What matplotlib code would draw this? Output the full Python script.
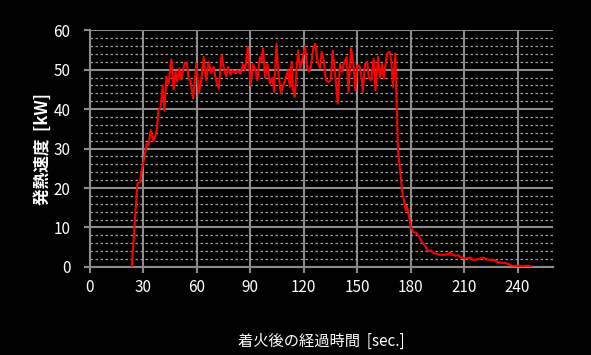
import matplotlib.pyplot as plt
from matplotlib.ticker import MultipleLocator

# 経過時間 [sec.] と 発熱速度 [kW]
time_sec = [
    23.5, 26.7, 28.2, 29.1, 30.0, 32.0, 33.0, 34.2, 35.7, 37.6, 38.5, 39.8, 40.8, 41.9,
    42.9, 44.2, 45.7, 47.0, 48.1, 49.0, 50.2, 51.3, 53.2, 54.5, 55.4, 56.4, 57.9, 59.8,
    61.1, 62.5, 63.9, 65.2, 66.7, 68.0, 69.5, 70.8, 72.4, 73.9, 75.2, 76.5, 77.5, 79.0,
    80.2, 81.7, 83.0, 84.6, 86.0, 87.0, 88.7, 90.2, 91.5, 93.0, 94.0, 95.4, 96.3, 97.2,
    98.3, 99.6, 101.0, 102.5, 103.4, 104.7, 105.8, 107.2, 108.5, 110.0, 111.3, 112.2,
    113.2, 114.1, 115.0, 116.0, 116.9, 118.0, 119.4, 120.7, 122.1, 123.0, 124.0, 125.4,
    126.5, 127.8, 129.2, 130.1, 131.2, 132.5, 133.8, 135.2, 136.3, 137.6, 139.1, 140.4,
    141.5, 142.8, 144.2, 145.1, 146.6, 147.9, 149.0, 150.0, 151.3, 152.2, 153.2, 154.4,
    155.6, 156.5, 157.8, 159.2, 160.3, 161.7, 162.8, 163.9, 165.0, 166.4, 167.2, 168.3,
    169.2, 170.1, 171.4, 172.9, 173.9, 175.2, 176.7, 177.3, 177.9, 178.6, 180.1, 181.4,
    183.3, 184.6, 186.1, 188.0, 188.9, 189.9, 191.4, 192.7, 194.6, 196.4, 199.3, 201.2,
    202.0, 203.0, 204.9, 206.8, 208.5, 210.4, 212.3, 213.6, 215.1, 217.0, 218.9, 220.8,
    222.7, 224.6, 226.5, 228.4, 230.3, 233.2, 235.0, 237.0, 240.7, 243.5, 244.5, 246.3,
    247.6,
]
hrr_kw = [
    0.0, 21.2, 21.5, 24.5, 26.3, 31.3, 31.0, 34.7, 31.8, 34.7, 39.7, 40.5, 46.0, 39.5,
    48.2, 46.5, 52.6, 45.0, 49.5, 47.0, 50.3, 47.5, 51.7, 51.7, 47.5, 47.3, 42.7, 51.6,
    44.0, 47.3, 53.2, 47.3, 52.0, 49.1, 50.7, 47.3, 45.2, 53.7, 50.3, 48.3, 50.7, 48.7,
    49.8, 49.0, 49.8, 49.0, 51.4, 49.8, 55.8, 46.0, 51.4, 49.8, 47.3, 53.2, 52.0, 55.4,
    48.0, 51.4, 46.5, 48.0, 44.4, 56.6, 49.0, 44.0, 46.0, 48.0, 49.8, 45.6, 52.0, 44.8,
    43.1, 49.8, 54.9, 50.3, 53.0, 55.8, 50.3, 49.5, 50.7, 55.4, 56.6, 52.0, 50.3, 54.5,
    52.5, 47.3, 46.9, 47.3, 54.9, 49.1, 41.4, 51.4, 49.5, 52.0, 53.2, 44.4, 55.4, 51.4,
    44.8, 51.0, 51.0, 49.0, 44.4, 51.4, 52.0, 48.0, 47.3, 52.7, 44.8, 53.2, 48.0, 51.4,
    47.7, 53.2, 54.3, 54.5, 52.0, 45.6, 54.1, 29.6, 25.4, 19.5, 15.7, 14.4, 15.5, 14.0,
    10.2, 8.9, 8.6, 7.8, 6.4, 5.5, 4.7, 4.0, 4.2, 3.6, 3.3, 3.1, 3.1, 3.3, 3.7, 3.1,
    2.9, 2.9, 2.4, 2.2, 2.2, 2.4, 1.8, 1.9, 2.1, 2.4, 1.9, 1.8, 1.8, 1.3, 1.1, 1.0,
    0.7, 0.3, 0.3, 0.1, 0.3, 0.3, 0.1,
]

plt.rcParams['font.family'] = ['Noto Sans CJK JP', 'DejaVu Sans']

fig = plt.figure(figsize=(5.91, 3.55), dpi=100, facecolor='black')
ax = fig.add_axes([0.152, 0.248, 0.784, 0.667], facecolor='black')

ax.plot(time_sec, hrr_kw, color='#ff0000', linewidth=1.5, zorder=3)

ax.set_xlim(0, 260)
ax.set_ylim(0, 60)
ax.xaxis.set_major_locator(MultipleLocator(30))
ax.yaxis.set_major_locator(MultipleLocator(10))
ax.yaxis.set_minor_locator(MultipleLocator(2))

# グリッド
ax.grid(which='major', axis='both', color='#8c8c8c', linewidth=1.5, zorder=1)
ax.grid(which='minor', axis='y', color='#a0a0a0', linewidth=0.9, linestyle=(0, (2, 2)), zorder=1)

for side in ['top', 'right']:
    ax.spines[side].set_visible(False)
for side in ['left', 'bottom']:
    ax.spines[side].set_color('#8c8c8c')
    ax.spines[side].set_linewidth(1.5)

ax.tick_params(which='major', colors='#8c8c8c', labelcolor='white', labelsize=11,
               length=4, width=1.5, direction='out')
ax.tick_params(which='minor', length=0)
ax.tick_params(axis='y', pad=10)
ax.tick_params(axis='x', pad=5)

ax.set_ylabel('発熱速度  [kW]', color='white', fontsize=12, fontweight='bold', labelpad=1)
ax.set_xlabel('着火後の経過時間  [sec.]', color='white', fontsize=11, labelpad=26)

fig.savefig('out.png', dpi=100, facecolor='black')
